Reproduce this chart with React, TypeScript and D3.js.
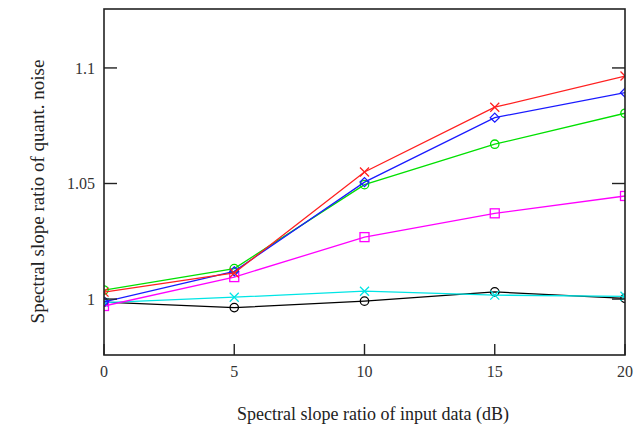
import React from "react";
import * as d3 from "d3";

const xValues = [0, 5, 10, 15, 20];
const xTicks = [0, 5, 10, 15, 20];
const yTicks = [1, 1.05, 1.1];
const yTickLabels = ["1", "1.05", "1.1"];

const redSeries = [1.003, 1.0113, 1.055, 1.083, 1.0965];
const blueSeries = [0.9988, 1.012, 1.0506, 1.0785, 1.0893];
const greenSeries = [1.0039, 1.0132, 1.0495, 1.067, 1.0804];
const magentaSeries = [0.997, 1.0095, 1.0268, 1.0371, 1.0446];
const cyanSeries = [0.9985, 1.0008, 1.0034, 1.0017, 1.0012];
const blackSeries = [0.9987, 0.9963, 0.9991, 1.0031, 1.0003];

const seriesList = [
  { name: "black", values: blackSeries, color: "#000000", marker: "circle" },
  { name: "cyan", values: cyanSeries, color: "#00e5e5", marker: "x" },
  { name: "magenta", values: magentaSeries, color: "#ff00ff", marker: "square" },
  { name: "green", values: greenSeries, color: "#00e000", marker: "circle" },
  { name: "blue", values: blueSeries, color: "#1a1aff", marker: "diamond" },
  { name: "red", values: redSeries, color: "#ff2020", marker: "x" },
];

const W = 644;
const H = 429;
const left = 104;
const right = 625;
const top = 9;
const bottom = 355;

export default function App() {
  const x = d3.scaleLinear().domain([0, 20]).range([left, right]);
  const y = d3.scaleLinear().domain([0.9758, 1.1255]).range([bottom, top]);
  const line = d3
    .line<number>()
    .x((_, i) => x(xValues[i]))
    .y((d) => y(d));

  const marker = (type: string, cx: number, cy: number, color: string, key: string) => {
    const s = 4.5;
    if (type === "x")
      return (
        <path key={key} d={`M${cx - s},${cy - s}L${cx + s},${cy + s}M${cx - s},${cy + s}L${cx + s},${cy - s}`} stroke={color} strokeWidth={1.3} fill="none" />
      );
    if (type === "square")
      return <rect key={key} x={cx - 4.5} y={cy - 4.5} width={9} height={9} stroke={color} strokeWidth={1.3} fill="none" />;
    if (type === "diamond")
      return <path key={key} d={`M${cx},${cy - 4.5}L${cx + 4.5},${cy}L${cx},${cy + 4.5}L${cx - 4.5},${cy}Z`} stroke={color} strokeWidth={1.3} fill="none" />;
    return <circle key={key} cx={cx} cy={cy} r={4.2} stroke={color} strokeWidth={1.3} fill="none" />;
  };

  return (
    <svg width={W} height={H} style={{ position: "absolute", left: 0, top: 0 }} fontFamily="'Liberation Serif', 'DejaVu Serif', serif">
      <defs>
        <clipPath id="plotclip">
          <rect x={left} y={top} width={right - left} height={bottom - top} />
        </clipPath>
      </defs>
      <rect width={W} height={H} fill="#ffffff" />
      <g clipPath="url(#plotclip)">
        {seriesList.map((s) => (
          <g key={s.name}>
            <path d={line(s.values) || ""} stroke={s.color} strokeWidth={1.3} fill="none" />
            {s.values.map((v, i) => marker(s.marker, x(xValues[i]), y(v), s.color, s.name + i))}
          </g>
        ))}
      </g>
      {/* frame */}
      <rect x={left} y={top} width={right - left} height={bottom - top} fill="none" stroke="#222" strokeWidth={1.6} />
      {/* y ticks */}
      {yTicks.map((t, i) => (
        <g key={"y" + t}>
          <line x1={left} x2={left + 13} y1={y(t)} y2={y(t)} stroke="#222" strokeWidth={1.4} />
          <line x1={right} x2={right - 13} y1={y(t)} y2={y(t)} stroke="#222" strokeWidth={1.4} />
          <text x={left - 9} y={y(t)} dy="0.35em" textAnchor="end" fontSize={16} fill="#333">
            {yTickLabels[i]}
          </text>
        </g>
      ))}
      {/* x ticks */}
      {xTicks.map((t) => (
        <g key={"x" + t}>
          <line x1={x(t)} x2={x(t)} y1={bottom} y2={bottom - 11} stroke="#222" strokeWidth={1.4} />
          <text x={x(t)} y={377} textAnchor="middle" fontSize={16} fill="#333">
            {t}
          </text>
        </g>
      ))}
      <text x={373} y={420} textAnchor="middle" fontSize={18} fill="#222">
        Spectral slope ratio of input data (dB)
      </text>
      <text transform={`translate(44,${191.5}) rotate(-90)`} textAnchor="middle" fontSize={19} fill="#222">
        Spectral slope ratio of quant. noise
      </text>
    </svg>
  );
}
